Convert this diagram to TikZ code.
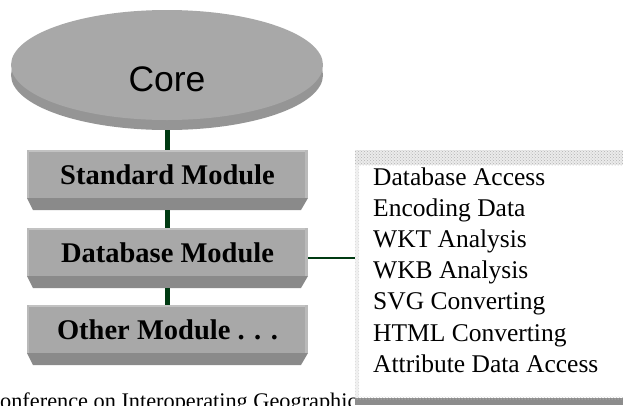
\documentclass[tikz,border=0pt]{standalone}
\usepackage{fontspec}
\usetikzlibrary{shapes.geometric,patterns}
\newfontfamily\timesfam{Liberation Serif}
\newfontfamily\arialfam{Liberation Sans}
\definecolor{facegray}{HTML}{A8A8A8}
\definecolor{rimgray}{HTML}{959595}
\definecolor{bevelgray}{HTML}{8A8A8A}
\definecolor{edgegray}{HTML}{C2C2C2}
\definecolor{linkgreen}{RGB}{0,58,18}
\definecolor{bargray}{HTML}{8C8C8C}
\tikzset{
  disk/.style={ellipse, minimum width=312pt, minimum height=110pt, inner sep=0pt},
  modbox/.style={
    minimum width=281pt, minimum height=60pt, inner sep=0pt,
    text height=20pt, text depth=12pt,
    font=\timesfam\bfseries\fontsize{28.5}{30}\selectfont,
    path picture={
      \fill[facegray] (path picture bounding box.north west)
        rectangle ([yshift=12pt]path picture bounding box.south east);
      \fill[edgegray] (path picture bounding box.north west)
        rectangle ([yshift=-2pt]path picture bounding box.north east);
      \fill[edgegray!70!facegray] (path picture bounding box.north west)
        rectangle ([xshift=2pt,yshift=12pt]path picture bounding box.south west);
      \fill[edgegray!70!facegray] ([xshift=-3pt]path picture bounding box.north east)
        rectangle ([yshift=12pt]path picture bounding box.south east);
      \fill[bevelgray] ([yshift=12pt]path picture bounding box.south west)
        -- ([yshift=12pt]path picture bounding box.south east)
        -- ([xshift=-7pt]path picture bounding box.south east)
        -- ([xshift=6pt]path picture bounding box.south west) -- cycle;
    }},
  link/.style={draw=linkgreen, line width=5pt},
  hlink/.style={draw=linkgreen, line width=2.5pt},
  item/.style={anchor=base west, inner sep=0pt,
    font=\timesfam\fontsize{25.5}{30}\selectfont},
}
\begin{document}
\begin{tikzpicture}[x=1pt,y=-1pt]
\useasboundingbox (0,0) rectangle (623,405);

% caption line running off the bottom edge
\node[anchor=base west, inner sep=0pt, font=\timesfam\fontsize{22.3}{26}\selectfont]
  (caption) at (0,408.5) {onference on Interoperating Geographic};

% the core disk: rim first, then the top face
\node[disk, fill=rimgray] (rim) at (167,75) {};
\node[disk, fill=facegray] (core) at (167,65) {};
\node[inner sep=0pt, font=\arialfam\fontsize{35.5}{40}\selectfont] (coretext) at (167,79.5) {Core};

% module boxes
\node[modbox] (std) at (167.5,180) {Standard Module};
\node[modbox] (db) at (167.5,258) {Database Module};
\node[modbox] (other) at (167.5,335) {Other Module . . .};

% function list panel
\node[draw=none, fill=white, minimum width=268pt, minimum height=255pt,
  inner sep=0pt, anchor=north west] (list) at (355,150) {};
\fill[gray!16] (355,150) rectangle (623,165);
\fill[pattern=crosshatch dots, pattern color=gray!60] (355,150) rectangle (623,165);
\fill[gray!10] (355,165) rectangle (359,398);
\fill[pattern=crosshatch dots, pattern color=gray!30] (355,165) rectangle (359,398);
\fill[bargray] (355,398) rectangle (623,405);
\fill[pattern=crosshatch dots, pattern color=gray!40] (355,396) rectangle (623,399);

\node[item] (i1) at (373,185) {Database Access};
\node[item] (i2) at (373,216.2) {Encoding Data};
\node[item] (i3) at (373,247.4) {WKT Analysis};
\node[item] (i4) at (373,278.6) {WKB Analysis};
\node[item] (i5) at (373,309.8) {SVG Converting};
\node[item] (i6) at (373,341) {HTML Converting};
\node[item] (i7) at (373,372.2) {Attribute Data Access};

% connectors
\draw[link] (rim.south) -- (rim.south |- std.north);
\draw[link] (std.south) -- (db.north);
\draw[link] (db.south) -- (other.north);
\draw[hlink] (db.east) -- (db.east -| list.west);
\end{tikzpicture}
\end{document}
